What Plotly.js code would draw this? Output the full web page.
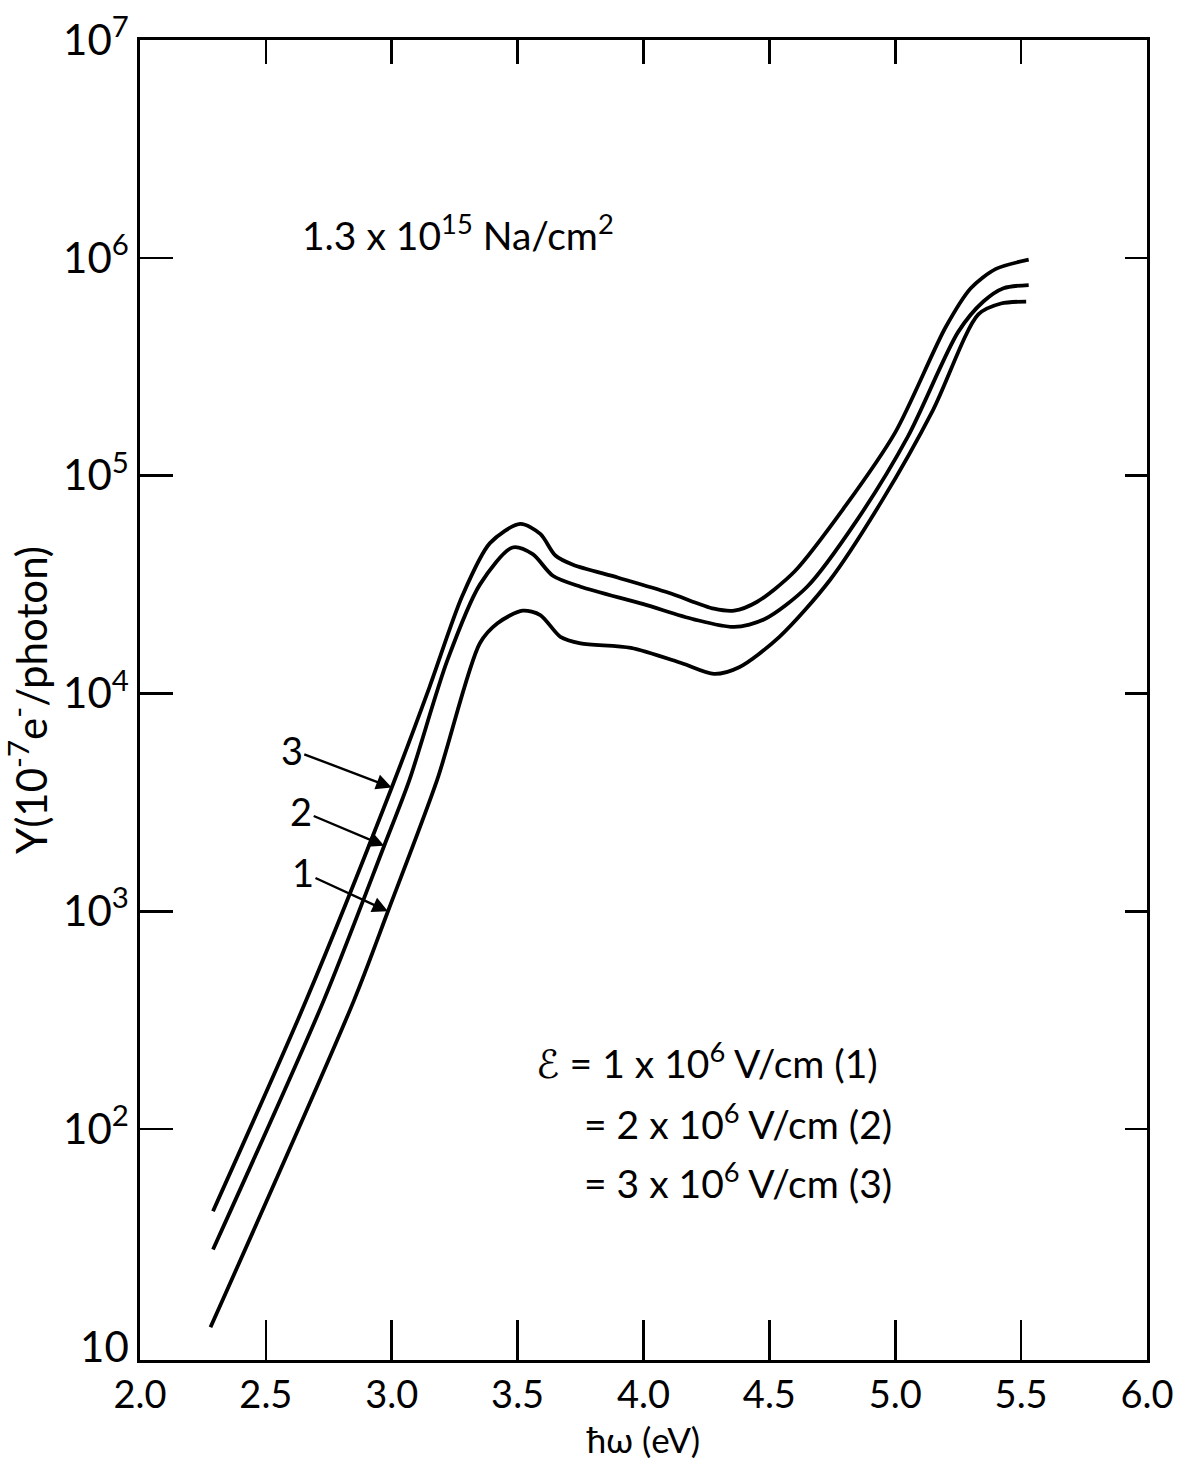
<!DOCTYPE html>
<html>
<head>
<meta charset="utf-8">
<script src="https://cdn.plot.ly/plotly-3.0.1.min.js"></script>
<style>html,body{margin:0;padding:0;background:#fff;}#chart{width:1184px;height:1460px;}</style>
</head>
<body>
<div id="chart"></div>
<script>
// Photon energy (eV) and yield Y (10^-7 e-/photon)
const energy1 = [2.28, 2.85, 2.985, 3.18, 3.35, 3.42, 3.52, 3.59, 3.67, 3.75, 3.95, 4.15, 4.28, 4.38, 4.54, 4.74, 4.95, 5.15, 5.33, 5.42, 5.52];
const yield1  = [12.3, 390, 1000, 4000, 17000, 21000, 24000, 22900, 18200, 17000, 16200, 13800, 12300, 13200, 18200, 33100, 77600, 200000, 550000, 617000, 630000];

const energy2 = [2.29, 2.73, 2.97, 3.07, 3.22, 3.35, 3.48, 3.56, 3.64, 3.75, 4.0, 4.2, 4.36, 4.48, 4.65, 4.85, 5.05, 5.25, 5.35, 5.43, 5.53];
const yield2  = [28, 390, 2000, 4000, 14100, 31600, 46800, 43600, 34700, 30900, 25700, 21900, 20200, 21900, 30900, 63000, 151000, 457000, 630000, 725000, 750000];

const energy3 = [2.29, 2.66, 3.0, 3.15, 3.28, 3.39, 3.51, 3.59, 3.65, 3.72, 3.9, 4.1, 4.28, 4.36, 4.45, 4.6, 4.8, 5.0, 5.2, 5.3, 5.4, 5.53];
const yield3  = [42, 390, 3700, 10700, 28000, 49000, 60000, 54000, 43000, 39000, 34000, 29000, 24500, 24000, 26300, 36300, 72000, 158000, 480000, 725000, 890000, 980000];

const curveLabels = ["1", "2", "3"];
const arrowIndex = [2, 2, 2];   // point on each curve that the label arrow touches

const xTickVals = [2.0, 2.5, 3.0, 3.5, 4.0, 4.5, 5.0, 5.5, 6.0];
const xTickText = ["2.0", "2.5", "3.0", "3.5", "4.0", "4.5", "5.0", "5.5", "6.0"];
const yTickVals = [10, 100, 1000, 10000, 100000, 1000000, 10000000];
const yTickText = ["10", "10<sup>2</sup>", "10<sup>3</sup>", "10<sup>4</sup>", "10<sup>5</sup>", "10<sup>6</sup>", "10<sup>7</sup>"];
const yInnerTicks = [100, 1000, 10000, 100000, 1000000];
const xInnerTicks = [2.5, 3.0, 3.5, 4.0, 4.5, 5.0, 5.5];

const fieldLines = [
  "ℰ = 1 x 10<sup>6</sup> V/cm (1)",
  "= 2 x 10<sup>6</sup> V/cm (2)",
  "= 3 x 10<sup>6</sup> V/cm (3)"
];
const coverageText = "1.3 x 10<sup>15</sup> Na/cm<sup>2</sup>";

const FONT = "Lato, 'Open Sans', 'DejaVu Sans', sans-serif";
const lineStyle = {color: "#000", width: 3.8, shape: "spline", smoothing: 0.8};

const energies = [energy1, energy2, energy3];
const yields = [yield1, yield2, yield3];

const traces = energies.map((e, i) => ({
  x: e, y: yields[i], type: "scatter", mode: "lines",
  line: lineStyle, showlegend: false, hoverinfo: "skip"
}));
traces.push({x: [], y: [], xaxis: "x2", yaxis: "y2", type: "scatter", mode: "lines", showlegend: false});
traces.push({x: [], y: [], xaxis: "x", yaxis: "y3", type: "scatter", mode: "lines", showlegend: false});

const arrowOffsets = [[-85, -39], [-83, -35], [-100, -38]];
const annotations = curveLabels.map((lab, i) => ({
  x: energies[i][arrowIndex[i]],
  y: Math.log10(yields[i][arrowIndex[i]]),
  xref: "x", yref: "y",
  text: lab, showarrow: true,
  ax: arrowOffsets[i][0], ay: arrowOffsets[i][1],
  arrowhead: 2, arrowsize: 1.3, arrowwidth: 2.4, arrowcolor: "#000",
  font: {family: FONT, size: 38, color: "#000"}
}));

annotations.push({
  x: 300, y: 232, xref: "paper", yref: "paper", text: coverageText, showarrow: false,
  font: {family: FONT, size: 39, color: "#000"}, xanchor: "left", yanchor: "middle"
});
const fieldPos = [[534, 1060], [582, 1121], [582, 1180]];
fieldLines.forEach((t, i) => annotations.push({
  text: t, showarrow: false, xanchor: "left", yanchor: "middle",
  font: {family: FONT, size: 39, color: "#000"},
  xref: "paper", yref: "paper", x: fieldPos[i][0], y: fieldPos[i][1]
}));

// convert pixel positions for the free text into paper coordinates
const L = 140, R = 37, T = 40, B = 100, W = 1184, H = 1460;
annotations.forEach(a => {
  if (a.xref === "paper") {
    a.x = (a.x - L) / (W - L - R);
    a.y = 1 - (a.y - T) / (H - T - B);
  }
});

const axisCommon = {
  showgrid: false, zeroline: false, showline: true, linecolor: "#000", linewidth: 2.8,
  tickcolor: "#000", tickwidth: 2.6
};

const layout = {
  width: W, height: H,
  margin: {l: L, r: R, t: T, b: B},
  paper_bgcolor: "#fff", plot_bgcolor: "#fff",
  font: {family: FONT, color: "#000"},
  xaxis: Object.assign({}, axisCommon, {
    range: [2, 6], tickvals: xTickVals, ticktext: xTickText,
    ticks: "inside", ticklen: 40,
    tickfont: {family: FONT, size: 38, color: "#000"},
    title: {text: "ħω (eV)", font: {family: FONT, size: 35, color: "#000"}, standoff: 22},
    automargin: false
  }),
  xaxis2: Object.assign({}, axisCommon, {
    range: [2, 6], overlaying: "x", side: "top", anchor: "y",
    tickvals: xInnerTicks, ticks: "inside", ticklen: 24, showticklabels: false
  }),
  yaxis: Object.assign({}, axisCommon, {
    type: "log", range: [0.94, 7], tickvals: yTickVals, ticktext: yTickText,
    ticks: "", tickfont: {family: FONT, size: 42, color: "#000"},
    title: {text: "Y(10<sup>-7</sup>e<sup>-</sup>/photon)", font: {family: FONT, size: 42, color: "#000"}, standoff: 4},
    automargin: false
  }),
  yaxis2: Object.assign({}, axisCommon, {
    type: "log", range: [0.94, 7], overlaying: "y", side: "right", anchor: "x",
    tickvals: yInnerTicks, ticks: "inside", ticklen: 22, showticklabels: false
  }),
  yaxis3: Object.assign({}, axisCommon, {
    type: "log", range: [0.94, 7], overlaying: "y", side: "left", anchor: "x",
    tickvals: yInnerTicks, ticks: "inside", ticklen: 33, showticklabels: false
  }),
  annotations: annotations
};

Plotly.newPlot("chart", traces, layout, {staticPlot: true, displayModeBar: false});
</script>
</body>
</html>
